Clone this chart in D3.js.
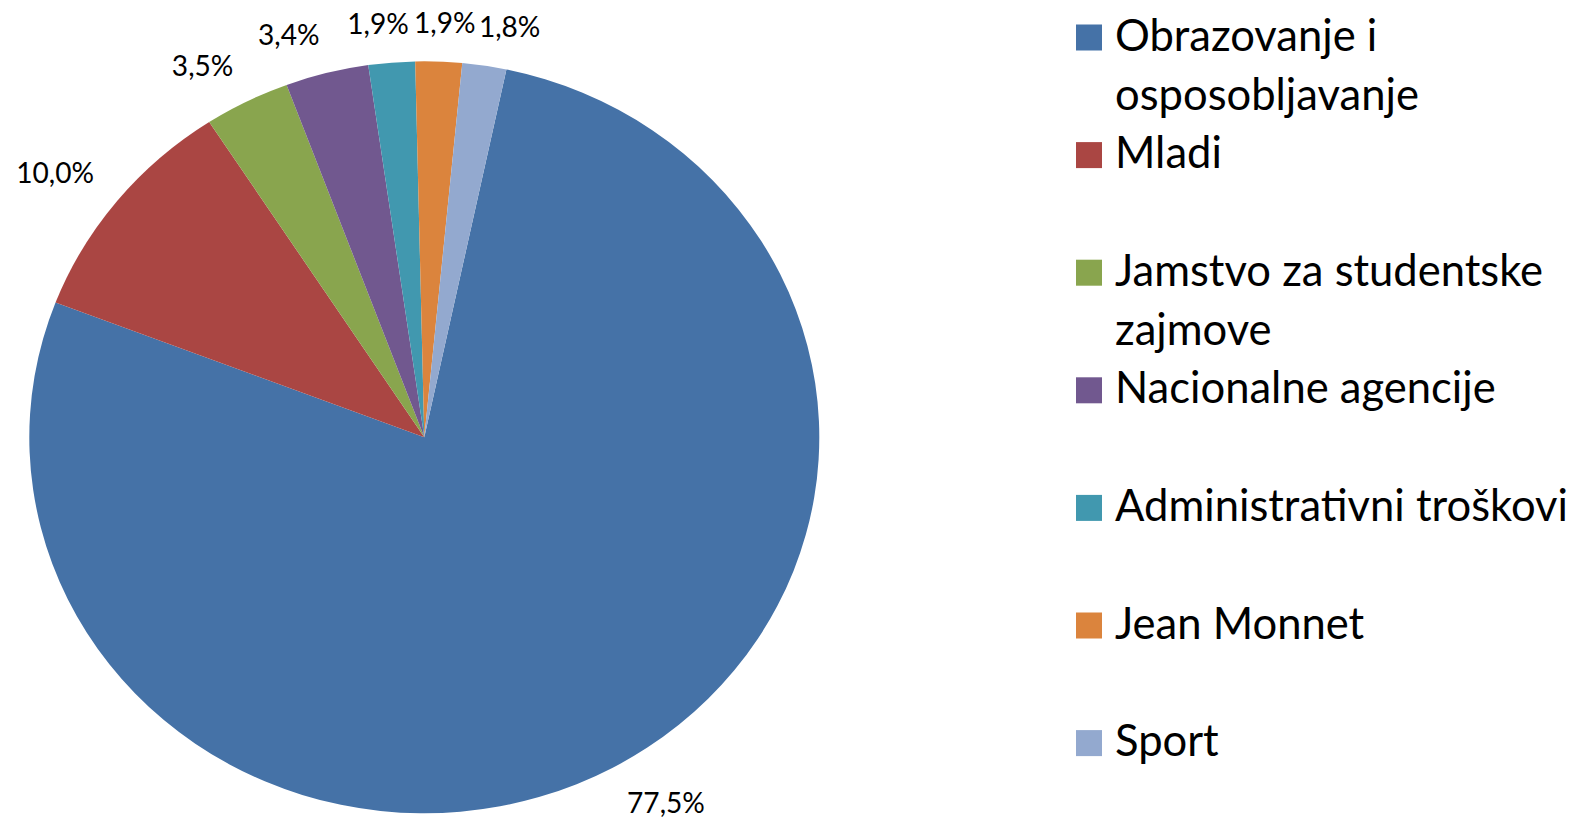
<!DOCTYPE html>
<html><head><meta charset="utf-8">
<script src="https://cdn.jsdelivr.net/npm/d3@7"></script>
<style>html,body{margin:0;padding:0;background:#fff;} svg{display:block;}</style>
</head><body>
<svg id="chart" width="1583" height="819"></svg>
<script>
// ---- data ----
const categories = ["Obrazovanje i osposobljavanje", "Mladi", "Jamstvo za studentske zajmove",
  "Nacionalne agencije", "Administrativni troškovi", "Jean Monnet", "Sport"];
const shares = [77.5, 10.0, 3.5, 3.4, 1.9, 1.9, 1.8];
const colors = ["#4572A7", "#AA4643", "#89A54E", "#71588F", "#4198AF", "#DB843D", "#93A9CF"];

// ---- layout ----
const svg = d3.select("#chart");
const FONT = "Lato, 'Open Sans', sans-serif";
const cx = 424.3, cy = 437.3, rx = 395, ry = 376;
const startDeg = 12;
const fmt = d3.formatLocale({decimal: ",", thousands: ".", grouping: [3], currency: ["", "€"]}).format(".1f");

function measure(text, size) {
  const t = svg.append("text").attr("font-family", FONT).attr("font-size", size).text(text);
  const w = t.node().getComputedTextLength();
  t.remove();
  return w;
}
function fitSize(text, target) { return 100 * target / measure(text, 100); }

const a0 = startDeg * Math.PI / 180;
const pie = d3.pie().sort(null).value(d => d).startAngle(a0).endAngle(a0 + 2 * Math.PI);
const arcs = pie(shares);
const arc = d3.arc().innerRadius(0).outerRadius(rx);

const g = svg.append("g").attr("transform", `translate(${cx},${cy}) scale(1,${ry / rx})`);
g.selectAll("path").data(arcs).join("path")
  .attr("d", arc).attr("fill", (d, i) => colors[i]);

// ---- data labels (outside end) ----
const labelSize = fitSize("1,9%", 61.5);
const digitH = 0.72 * labelSize;
const pad = 30;
const clamp = v => Math.max(0, Math.min(1, v));
arcs.forEach((d, i) => {
  const th = (d.startAngle + d.endAngle) / 2;
  const s = Math.sin(th), c = Math.cos(th);
  const ax = cx + (rx + pad) * s;
  const ay = cy - (ry + pad * ry / rx) * c;
  const txt = fmt(shares[i]) + "%";
  const w = measure(txt, labelSize);
  const fx = clamp(0.5 - 2.2 * s), fy = clamp(0.5 + 2.2 * c);
  const left = ax - fx * w, top = ay - fy * digitH;
  svg.append("text")
    .attr("x", left + w / 2).attr("y", top + digitH)
    .attr("text-anchor", "middle")
    .attr("font-family", FONT).attr("font-size", labelSize)
    .attr("fill", "#000").text(txt);
});

// ---- legend ----
const legSize = fitSize("Administrativni troškovi", 453);
const legTextX = 1115, legBoxX = 1076, box = 26;
const firstBase = 50.5, step = 117.6, lineH = 59;
const maxW = 1583 - legTextX - 4;
function wrap(text) {
  const words = text.split(" ");
  const lines = [];
  let cur = "";
  words.forEach(wd => {
    const test = cur ? cur + " " + wd : wd;
    if (cur && measure(test, legSize) > maxW) { lines.push(cur); cur = wd; }
    else cur = test;
  });
  if (cur) lines.push(cur);
  return lines;
}
categories.forEach((name, i) => {
  const base = firstBase + i * step;
  svg.append("rect").attr("x", legBoxX).attr("y", base - box).attr("width", box).attr("height", box)
    .attr("fill", colors[i]);
  const lines = wrap(name);
  const t = svg.append("text").attr("font-family", FONT).attr("font-size", legSize).attr("fill", "#000");
  lines.forEach((ln, j) => {
    t.append("tspan").attr("x", legTextX).attr("y", base + j * lineH).text(ln);
  });
});
</script>
</body></html>
